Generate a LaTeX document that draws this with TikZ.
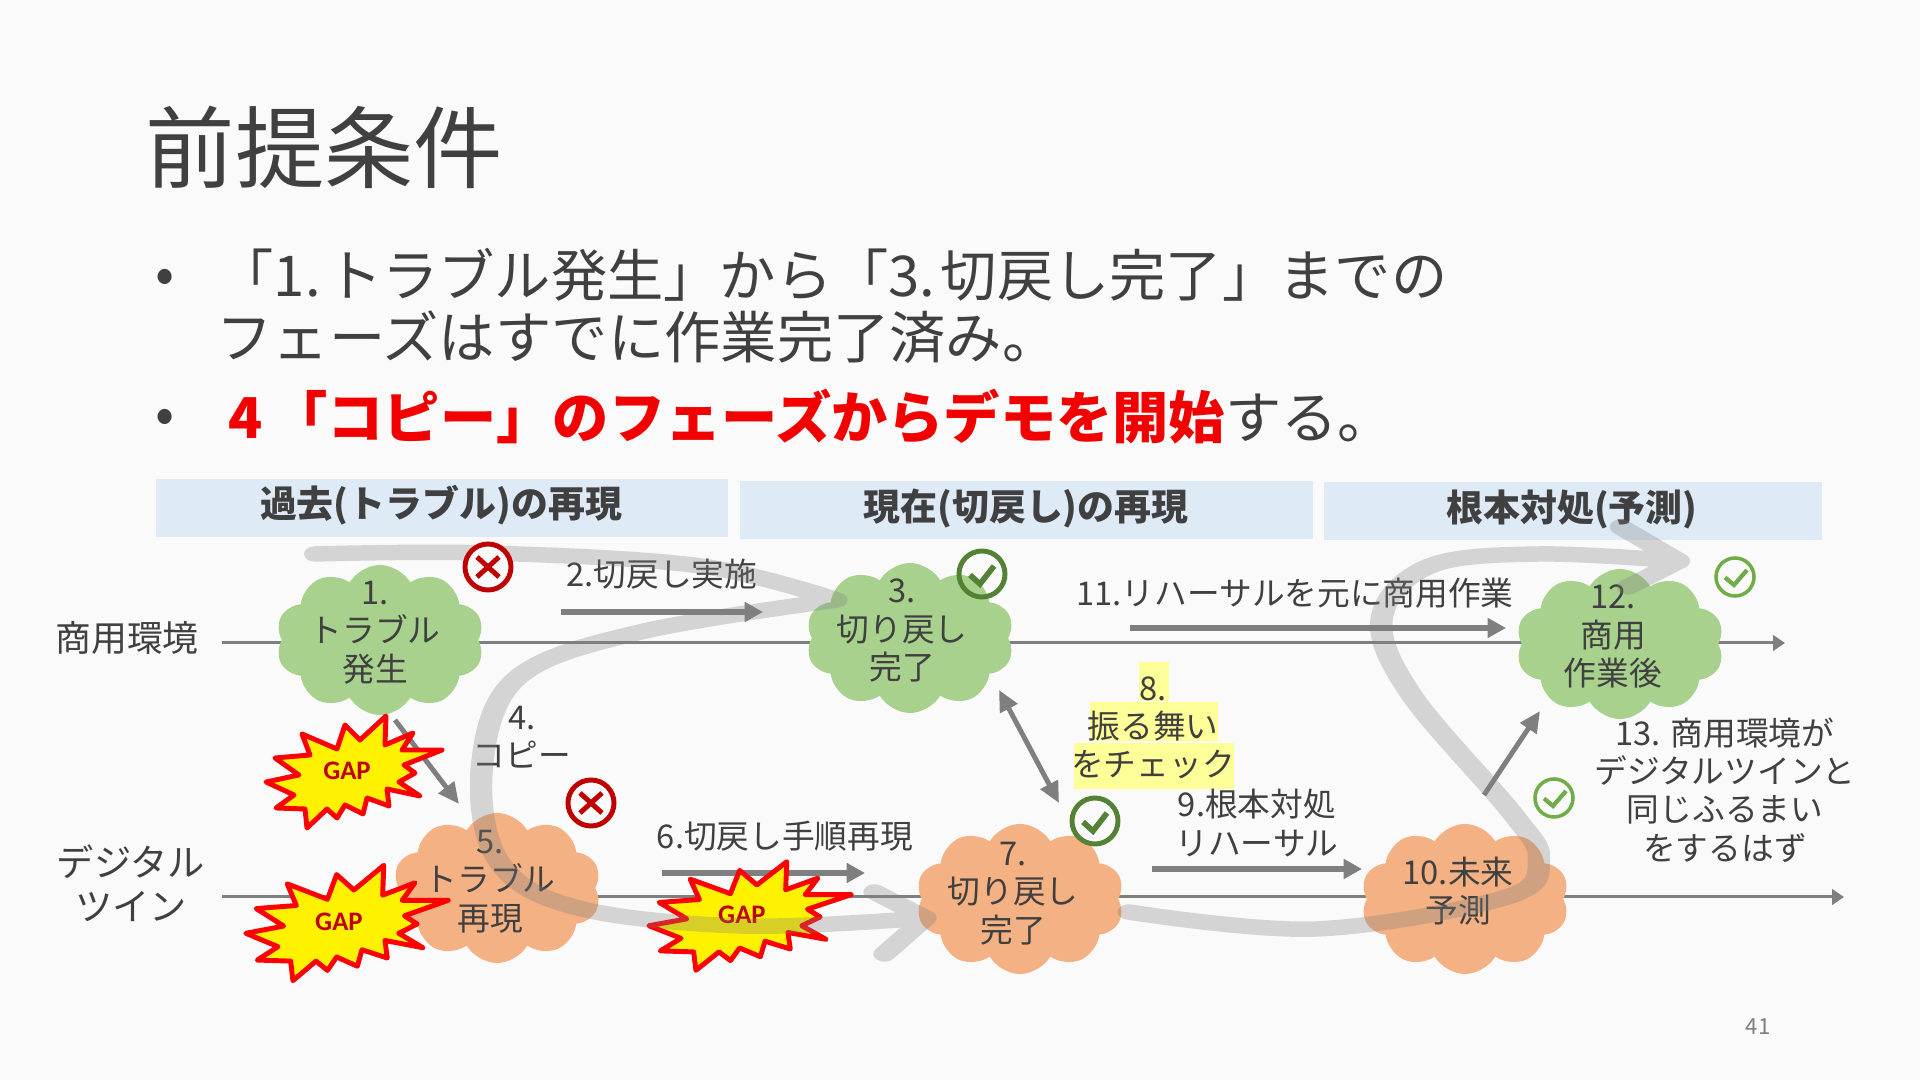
\documentclass[tikz,border=0pt]{standalone}
\usepackage{fontspec}
\setmainfont{Noto Sans CJK JP}
\newfontfamily\gapfont{Carlito}
\usetikzlibrary{shapes.symbols, arrows.meta, positioning}
\definecolor{slideBg}{HTML}{FAFAFA}
\definecolor{inkDark}{HTML}{404040}
\definecolor{headBlue}{HTML}{DEEAF6}
\definecolor{arrowGray}{HTML}{7F7F7F}
\definecolor{cloudGreen}{HTML}{A9D18E}
\definecolor{cloudOrange}{HTML}{F4B183}
\definecolor{okDark}{HTML}{548235}
\definecolor{okLight}{HTML}{70AD47}
\definecolor{ngRed}{HTML}{C00000}
\definecolor{hlYellow}{HTML}{FFFF99}
\definecolor{alertRed}{HTML}{F20000}

\tikzset{
  cloudshape/.style={cloud, cloud puffs=10, cloud puff arc=120, aspect=1.43,
    minimum width=2.08cm, minimum height=1.5cm, inner sep=0pt},
  greencloud/.style={cloudshape, fill=cloudGreen},
  orangecloud/.style={cloudshape, fill=cloudOrange},
  tagtext/.style={text=inkDark, align=center, inner sep=0pt,
    font=\fontsize{9.3}{10.9}\selectfont},
  headbar/.style={fill=headBlue, inner sep=0pt, text=inkDark,
    font=\fontsize{10.5}{12}\selectfont\bfseries},
  bodytext/.style={text=inkDark, anchor=west, inner sep=0pt,
    font=\fontsize{16}{17}\selectfont},
  hlline/.style={fill=hlYellow, inner sep=0pt},
  timeline/.style={draw=arrowGray, line width=0.85pt, -{Triangle[length=3.4pt,width=4.4pt]}},
  fatarrow/.style={draw=arrowGray, line width=1.9pt, -{Triangle[length=5.2pt,width=5.4pt]}},
  slimarrow/.style={draw=arrowGray, line width=1.4pt, -{Triangle[length=6pt,width=5.4pt]}},
  swoosh/.style={draw=arrowGray, opacity=0.3, line width=4.4pt, line cap=round, line join=round},
  okmark/.style={circle, draw=#1, line width=1.4pt, inner sep=0pt, minimum size=0.46cm,
    path picture={\draw[#1, line width=1.6pt, line join=miter]
      (path picture bounding box.center) ++(-12,1) -- ++(10,9) -- ++(14,-18);}},
  okmarksmall/.style={circle, draw=#1, line width=1pt, inner sep=0pt, minimum size=0.38cm,
    path picture={\draw[#1, line width=1.2pt]
      (path picture bounding box.center) ++(-10,0.5) -- ++(9,7.5) -- ++(13,-15);}},
  ngmark/.style={circle, draw=ngRed, fill=slideBg, line width=1.4pt, inner sep=0pt, minimum size=0.46cm,
    path picture={\draw[ngRed, line width=1.4pt]
      (path picture bounding box.center) +(-11,-10) -- +(11,10) +(-11,10) -- +(11,-10);}},
  gapburst/.pic={
    \draw[fill=yellow, draw=red, line width=1.4pt, line join=round]
      (32,-56) -- (31,-27) -- (59,-39) -- (48,-22) -- (88,-22) -- (50,-7) -- (61,1)
      -- (45,10) -- (66,24) -- (33,17) -- (35,34) -- (13,26) -- (9,42) -- (-9,33)
      -- (-17,46) -- (-27,37) -- (-47,56) -- (-49,37) -- (-78,36) -- (-60,23)
      -- (-88,10) -- (-55,3) -- (-79,-14) -- (-44,-17) -- (-52,-38) -- (-17,-23)
      -- (-9,-47) -- (6,-32) -- cycle;
    \node[text=ngRed, inner sep=0pt, font=\gapfont\fontsize{7.6}{8}\selectfont\bfseries] (-label) at (-7,-1) {GAP};
  }
}

\begin{document}
\begin{tikzpicture}[x=0.01cm, y=-0.01cm]
\useasboundingbox (0,0) rectangle (1920,1080);
\fill[slideBg] (0,0) rectangle (1920,1080);

% --- TITLE AND BULLETS ---
\node[text=inkDark, anchor=west, inner sep=0pt, font=\fontsize{25.4}{28}\selectfont] (title) at (145,147) {前提条件};
\node[bodytext] (dotA) at (155,281) {•};
\node[bodytext] (lineA) at (217,275) {「1.\hspace{1.5pt}トラブル発生」から「3.\hspace{1.5pt}切戻し完了」までの};
\node[bodytext] (lineB) at (216,337) {フェーズはすでに作業完了済み。};
\node[bodytext] (dotB) at (155,421) {•};
\node[bodytext] (lineC) at (228,417) {\textcolor{alertRed}{\bfseries 4\hspace{2.4pt}「コピー」のフェーズからデモを開始}する。};

% --- HEADER BARS ---
\node[headbar, minimum width=5.72cm, minimum height=0.58cm] (headA) at (442,508) {};
\node[headbar, minimum width=5.73cm, minimum height=0.58cm] (headB) at (1026.5,510) {};
\node[headbar, minimum width=4.97cm, minimum height=0.58cm] (headC) at (1573,511) {};
\node[headbar] (headAt) at (441,505.5) {過去(トラブル)の再現};
\node[headbar] (headBt) at (1026,508.5) {現在(切戻し)の再現};
\node[headbar] (headCt) at (1572,509.5) {根本対処(予測)};

% --- TIMELINES ---
\node[tagtext, font=\fontsize{10.2}{12.4}\selectfont] (envProd) at (127,638) {商用環境};
\node[tagtext, font=\fontsize{10.6}{12.4}\selectfont] (envTwin) at (131,883) {デジタル\\ツイン};
\coordinate (prodS) at (222,643);
\coordinate (prodE) at (1785,643);
\coordinate (twinS) at (222,897);
\coordinate (twinE) at (1844,897);
\draw[timeline] (prodS) -- (prodE);
\draw[timeline] (twinS) -- (twinE);

% --- CLOUDS ---
\node[greencloud] (c1) at (380,640) {};
\node[greencloud] (c3) at (910,638) {};
\node[greencloud] (c12) at (1620,644) {};
\node[orangecloud] (c5) at (497,888) {};
\node[orangecloud] (c7) at (1020,899) {};
\node[orangecloud] (c10) at (1465,899) {};
\node[tagtext] (t1) at (375,632.5) {1.\\トラブル\\発生};
\node[tagtext] (t3) at (902,630.5) {3.\\切り戻し\\完了};
\node[tagtext] (t12) at (1613,636.5) {12.\\商用\\作業後};
\node[tagtext] (t5) at (490,881.5) {5.\\トラブル\\再現};
\node[tagtext] (t7) at (1013,893.5) {7.\\切り戻し\\完了};
\node[tagtext] (t10) at (1458,891) {10.未来\\予測};

% --- SMALL ARROWS ---
\coordinate (a2s) at (561,612);
\coordinate (a2e) at (763,612);
\coordinate (a11s) at (1130,628);
\coordinate (a11e) at (1506,628);
\coordinate (a9s) at (1152,869);
\coordinate (a9e) at (1362,869);
\coordinate (a6s) at (662,873);
\coordinate (a6e) at (865,873);
\coordinate (a4s) at (395,720);
\coordinate (a4e) at (459,804);
\coordinate (a8s) at (999,690);
\coordinate (a8e) at (1059,803);
\coordinate (a13s) at (1484,795);
\coordinate (a13e) at (1540,711);
\draw[fatarrow] (a2s) -- (a2e);
\draw[fatarrow] (a11s) -- (a11e);
\draw[fatarrow] (a9s) -- (a9e);
\draw[fatarrow] (a6s) -- (a6e);
\draw[slimarrow] (a4s) -- (a4e);
\draw[slimarrow, {Triangle[length=6pt,width=5.4pt]}-{Triangle[length=6pt,width=5.4pt]}] (a8s) -- (a8e);
\draw[slimarrow] (a13s) -- (a13e);

% --- GAP STARS ---
\pic (gapA) at (354,772) {gapburst};
\pic[xscale=1.15, yscale=1.03] (gapB) at (347,923) {gapburst};
\pic[xscale=1.15, yscale=0.97] (gapC) at (750,916) {gapburst};

% --- LABELS ---
\node[tagtext] (t2) at (662,574) {2.切戻し実施};
\node[tagtext] (t4) at (522,737) {4.\\コピー};
\node[tagtext] (t6) at (785,836) {6.切戻し手順再現};
\node[hlline, minimum width=0.30cm, minimum height=0.39cm] (hl8a) at (1154,681.5) {};
\node[hlline, minimum width=1.28cm, minimum height=0.39cm, below=0pt of hl8a] (hl8b) {};
\node[hlline, minimum width=1.59cm, minimum height=0.46cm, below=0pt of hl8b] (hl8c) {};
\node[tagtext] (t8) at (1153,728) {8.\\振る舞い\\をチェック};
\node[tagtext] (t9) at (1257,823) {9.根本対処\\リハーサル};
\node[tagtext] (t11) at (1295,593) {11.リハーサルを元に商用作業};
\node[tagtext] (t13) at (1725,790) {13. 商用環境が\\デジタルツインと\\同じふるまい\\をするはず};
\node[text=arrowGray, inner sep=0pt, font=\fontsize{6.3}{7}\selectfont] (pageno) at (1758,1027) {41};

% --- FLOW SWOOSHES ---
\begin{scope}[transform canvas={xscale=1.45}, x=0.0068966cm]
\coordinate (sw1s) at (315,554);
\coordinate (sw1m) at (836,600);
\coordinate (sw1t) at (925,918);
\coordinate (sw1p) at (874,892);
\coordinate (sw1q) at (884,954);
\coordinate (sw2s) at (1128,912);
\coordinate (sw2t) at (1678,561);
\coordinate (sw2p) at (1620,527);
\coordinate (sw2q) at (1627,587);
\draw[swoosh] plot[smooth, tension=0.6] coordinates {(sw1s) (487,553) (700,566) (sw1m)}
  -- plot[smooth, tension=0.6] coordinates {(sw1m) (640,632) (518,677) (482,763) (497,859) (574,907) (742,926) (sw1t)}
  (sw1p) -- (sw1t) -- (sw1q);
\draw[swoosh] plot[smooth, tension=0.6] coordinates {(sw2s) (1315,929) (1506,897) (1538,859) (1512,814) (1410,694) (1381,618) (1429,566) (1538,554) (sw2t)}
  (sw2p) -- (sw2t) -- (sw2q);
\end{scope}

% --- MARKS ---
\node[ngmark] (ng1) at (488,567) {};
\node[ngmark] (ng5) at (591,803) {};
\node[okmark=okDark] (ok3) at (982,574) {};
\node[okmark=okDark] (ok7) at (1095,821) {};
\node[okmarksmall=okLight] (ok12) at (1735,577) {};
\node[okmarksmall=okLight] (ok13) at (1554,798) {};

\end{tikzpicture}
\end{document}
